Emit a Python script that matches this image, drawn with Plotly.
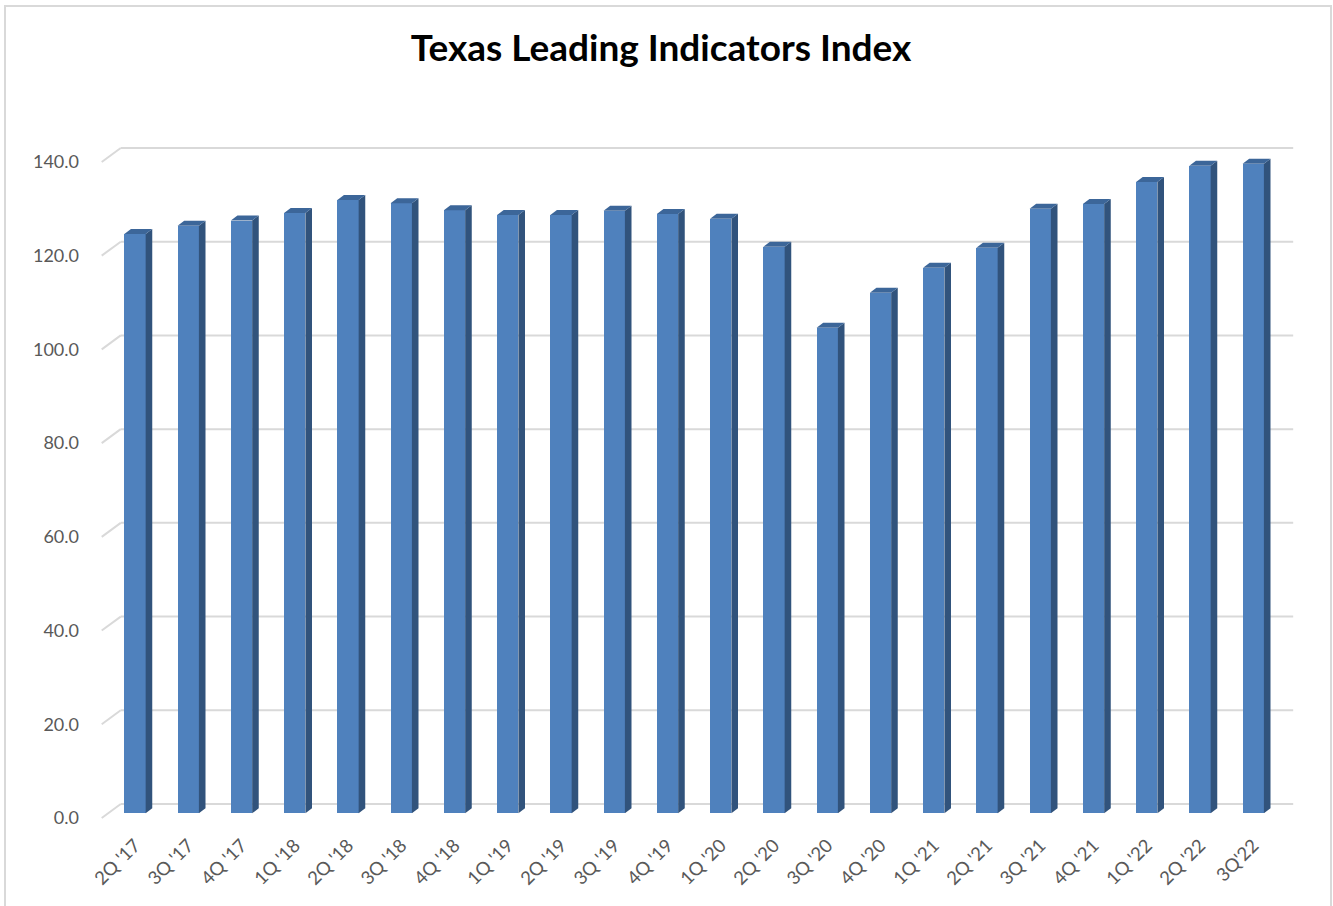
import plotly.graph_objects as go

# ---- data -------------------------------------------------------------
categories = [
    "2Q '17", "3Q '17", "4Q '17", "1Q '18", "2Q '18", "3Q '18", "4Q '18",
    "1Q '19", "2Q '19", "3Q '19", "4Q '19", "1Q '20", "2Q '20", "3Q '20",
    "4Q '20", "1Q '21", "2Q '21", "3Q '21", "4Q '21", "1Q '22", "2Q '22",
    "3Q'22",
]
index_values = [
    123.6, 125.4, 126.5, 128.1, 130.9, 130.2, 128.7,
    127.7, 127.7, 128.6, 127.9, 126.9, 120.9, 103.6,
    111.1, 116.4, 120.7, 129.0, 130.0, 134.7, 138.2,
    138.6,
]
y_tick_values = [0, 20, 40, 60, 80, 100, 120, 140]
y_tick_labels = ["0.0", "20.0", "40.0", "60.0", "80.0", "100.0", "120.0", "140.0"]

# ---- page geometry & pseudo-3D depth -------------------------------
W, H = 1333, 906
CAT_PX = 53.25          # pixels per category
CAT0_PX = 135.0         # pixel x of first category centre
UNIT_PX = 4.686         # pixels per index point
BASE_PX = 813.3         # pixel y of the bar base (front face plane)

BAR_W = 0.40            # bar width in category units
BAR_DX = 0.124          # bar depth, x component (category units)
BAR_DY = 1.07           # bar depth, y component (index units)

FRONT_SHIFT = 1.0       # axis front edge sits this far below the bar plane
WALL_DX = 0.357         # front edge -> back wall, x (category units)
WALL_DY = 2.98          # front edge -> back wall, y (index units)
WALL_LEFT = -0.625      # x of the front-left edge
WALL_RIGHT = 21.75      # x where back-wall gridlines end

FRONT = "#4F81BD"
SIDE = "#31537C"
TOP = "#3C6699"
GRID = "#D9D9D9"
TEXT = "#595959"

x_dom_px = (90, 1310)
y_dom_px = (830, 140)
x_range = [(x_dom_px[0] - CAT0_PX) / CAT_PX, (x_dom_px[1] - CAT0_PX) / CAT_PX]
y_range = [(BASE_PX - y_dom_px[0]) / UNIT_PX, (BASE_PX - y_dom_px[1]) / UNIT_PX]

idx = list(range(len(categories)))

fig = go.Figure()

# front faces
fig.add_trace(go.Bar(
    x=idx, y=index_values, width=BAR_W, marker_color=FRONT,
    marker_line_width=0, showlegend=False, hoverinfo="x+y",
))

# side and top faces
side_x, side_y, top_x, top_y = [], [], [], []
for i, v in zip(idx, index_values):
    r = i + BAR_W / 2
    l = i - BAR_W / 2
    side_x += [r, r + BAR_DX, r + BAR_DX, r, r, None]
    side_y += [0, BAR_DY, v + BAR_DY, v, 0, None]
    top_x += [l, l + BAR_DX, r + BAR_DX, r, l, None]
    top_y += [v, v + BAR_DY, v + BAR_DY, v, v, None]

fig.add_trace(go.Scatter(
    x=side_x, y=side_y, mode="lines", fill="toself", fillcolor=SIDE,
    line=dict(width=0, color=SIDE), showlegend=False, hoverinfo="skip",
))
fig.add_trace(go.Scatter(
    x=top_x, y=top_y, mode="lines", fill="toself", fillcolor=TOP,
    line=dict(width=0, color=TOP), showlegend=False, hoverinfo="skip",
))

# short floor-to-wall edges at each tick on the left
diag_x, diag_y = [], []
for t in y_tick_values:
    diag_x += [WALL_LEFT, WALL_LEFT + WALL_DX, None]
    diag_y += [t, t + WALL_DY, None]
fig.add_trace(go.Scatter(
    x=diag_x, y=diag_y, yaxis="y2", mode="lines",
    line=dict(color=GRID, width=2), showlegend=False, hoverinfo="skip",
    cliponaxis=False,
))

# back-wall gridlines
for t in y_tick_values:
    fig.add_shape(
        type="line", xref="x", yref="y2", layer="below",
        x0=WALL_LEFT + WALL_DX, x1=WALL_RIGHT,
        y0=t + WALL_DY, y1=t + WALL_DY,
        line=dict(color=GRID, width=2),
    )

# chart frame
fig.add_shape(
    type="rect", xref="paper", yref="paper",
    x0=5 / W, x1=1331 / W, y0=-0.02, y1=1 - 6 / H,
    line=dict(color=GRID, width=2), fillcolor="rgba(0,0,0,0)",
)

fig.update_layout(
    width=W, height=H,
    margin=dict(l=0, r=0, t=0, b=0),
    paper_bgcolor="white", plot_bgcolor="rgba(0,0,0,0)",
    font=dict(family="Lato, Open Sans, sans-serif", color=TEXT, size=18),
    title=dict(
        text="<b>Texas Leading Indicators Index</b>",
        x=661 / W, xanchor="center", y=1 - 48 / H, yanchor="middle",
        font=dict(family="Lato, sans-serif", size=37, color="black"),
    ),
    bargap=0,
    xaxis=dict(
        domain=[x_dom_px[0] / W, x_dom_px[1] / W], range=x_range,
        tickmode="array", tickvals=idx, ticktext=categories, tickangle=-45,
        showgrid=False, zeroline=False, showline=False, ticks="",
        tickfont=dict(size=18.5, color=TEXT), fixedrange=True,
    ),
    yaxis=dict(
        domain=[1 - y_dom_px[0] / H, 1 - y_dom_px[1] / H], range=y_range,
        showgrid=False, zeroline=False, showline=False, showticklabels=False,
        ticks="", fixedrange=True,
    ),
    yaxis2=dict(
        overlaying="y", side="left", anchor="free", position=79 / W,
        range=[y_range[0] + FRONT_SHIFT, y_range[1] + FRONT_SHIFT],
        tickmode="array", tickvals=y_tick_values, ticktext=y_tick_labels,
        showgrid=False, zeroline=False, showline=False, ticks="",
        tickfont=dict(size=18, color=TEXT), fixedrange=True,
    ),
)

fig.write_html("out.html")
